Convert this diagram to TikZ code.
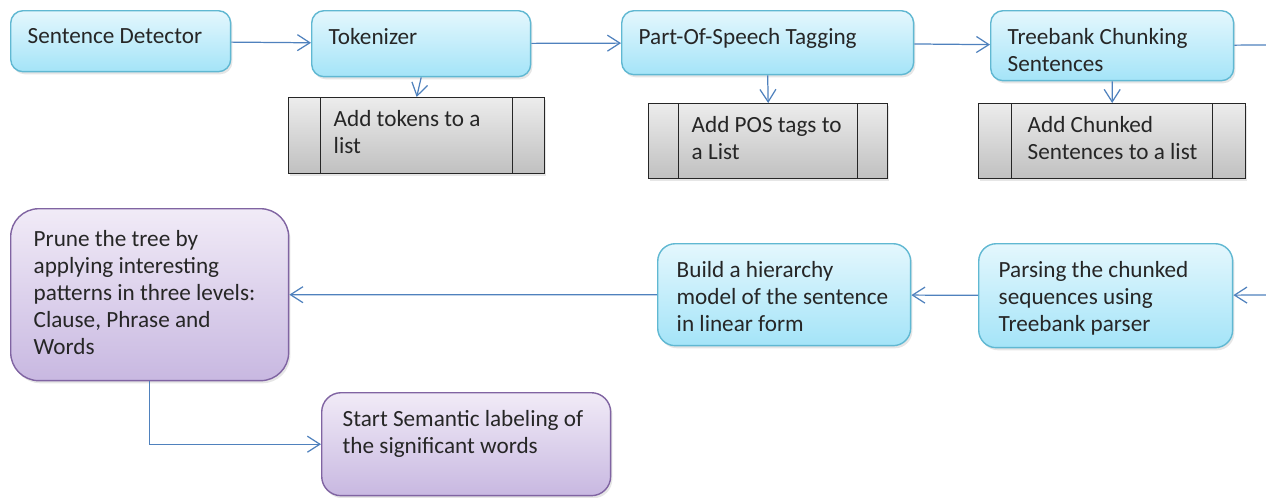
\documentclass[tikz,border=0pt]{standalone}
\usepackage{fontspec}
\setmainfont{Carlito}
\usetikzlibrary{arrows.meta, positioning, shadows}
\definecolor{cyanEdge}{RGB}{96, 184, 210}
\definecolor{cyanTop}{RGB}{228, 247, 253}
\definecolor{cyanBottom}{RGB}{164, 228, 248}
\definecolor{violetEdge}{RGB}{128, 100, 162}
\definecolor{violetTop}{RGB}{241, 235, 247}
\definecolor{violetBottom}{RGB}{200, 184, 225}
\definecolor{greyTop}{RGB}{236, 236, 236}
\definecolor{greyBottom}{RGB}{192, 192, 192}
\definecolor{arrowBlue}{RGB}{79, 129, 189}
% text block: [top shift]{left margin}{width}{height}{text}
\newcommand{\boxtxt}[5][0pt]{\parbox[c][\dimexpr#4-20pt\relax][t]{#3}%
  {\raggedright\leftskip=#2\relax\vspace*{#1}#5}}

\begin{document}
\begin{tikzpicture}[
  x=0.02cm, y=-0.02cm,
  stage/.style={rectangle, rounded corners=7pt, draw=cyanEdge,
    top color=cyanTop, bottom color=cyanBottom, line width=0.8pt,
    anchor=north west, inner xsep=0pt, inner ysep=10pt,
    font=\fontsize{13.2}{15.3}\selectfont, text=black!85,
    drop shadow={opacity=0.2, shadow xshift=1pt, shadow yshift=-1.5pt}},
  final/.style={stage, draw=violetEdge, top color=violetTop,
    bottom color=violetBottom},
  store/.style={rectangle, draw=black!85, line width=0.8pt,
    top color=greyTop, bottom color=greyBottom,
    anchor=north west, inner xsep=0pt, inner ysep=10pt,
    font=\fontsize{13.2}{15.3}\selectfont, text=black!85,
    drop shadow={opacity=0.2, shadow xshift=1pt, shadow yshift=-1.5pt},
    path picture={\draw[black!85, line width=0.8pt]
      ([xshift=#1]path picture bounding box.north west) --
      ([xshift=#1]path picture bounding box.south west)
      ([xshift=-#1]path picture bounding box.north east) --
      ([xshift=-#1]path picture bounding box.south east);}},
  link/.style={draw=arrowBlue, line width=0.7pt},
  arr/.style={link, -{Straight Barb[length=2.5mm, width=3.2mm]}},
]
\useasboundingbox (0,0) rectangle (1266,497);
% top row
\node[stage] (detect) at (10,10)
  {\boxtxt{0.34cm}{4.4cm}{1.22cm}{Sentence Detector}};
\node[stage] (token) at (311,10)
  {\boxtxt{0.34cm}{4.38cm}{1.32cm}{Tokenizer}};
\node[stage] (pos) at (621,10)
  {\boxtxt{0.34cm}{5.84cm}{1.28cm}{Part-Of-Speech Tagging}};
\node[stage] (chunk) at (990,10)
  {\boxtxt{0.34cm}{4.86cm}{1.4cm}{Treebank Chunking\\Sentences}};
% lists
\node[store=0.64cm] (tokens) at (288,97)
  {\boxtxt[-2.5pt]{0.9cm}{5.12cm}{1.52cm}{Add tokens to a\\list}};
\node[store=0.6cm] (tags) at (648,103)
  {\boxtxt[-2.5pt]{0.86cm}{4.78cm}{1.5cm}{Add POS tags to\\a List}};
\node[store=0.66cm] (chunks) at (978,103)
  {\boxtxt[-2.5pt]{0.98cm}{5.34cm}{1.5cm}{Add Chunked\\Sentences to a list}};
% second row
\node[stage, rounded corners=10pt] (parse) at (978,243)
  {\boxtxt{0.4cm}{5.08cm}{2.08cm}{Parsing  the chunked\\sequences using\\Treebank parser}};
\node[stage, rounded corners=10pt] (build) at (657,243)
  {\boxtxt{0.38cm}{5.06cm}{2.04cm}{Build a hierarchy\\model of  the sentence\\in linear form}};
\node[final, rounded corners=16pt] (prune) at (10,208)
  {\boxtxt[2.5pt]{0.46cm}{5.56cm}{3.44cm}{Prune the tree  by\\applying  interesting\\patterns  in three levels:\\Clause, Phrase and\\Words}};
\node[final, rounded corners=11pt] (start) at (321,392)
  {\boxtxt{0.42cm}{5.78cm}{2.06cm}{Start Semantic labeling of\\the significant words}};
\coordinate (edgeOut) at (1266,45);
\coordinate (edgeIn) at (1266,295);
% connectors
\draw[arr] (detect) -- (token);
\draw[arr] (token) -- (pos);
\draw[arr] (pos) -- (chunk);
\draw[link] (chunk) -- (edgeOut);
\draw[arr] (token.south) -- (tokens.north);
\draw[arr] (pos.south) -- (tags.north);
\draw[arr] (chunk.south) -- (chunks.north);
\draw[arr] (edgeIn) -- (parse);
\draw[arr] (parse) -- (build);
\draw[arr] (build) -- (prune);
\draw[arr] (prune.south) |- (start.west);
\end{tikzpicture}
\end{document}
